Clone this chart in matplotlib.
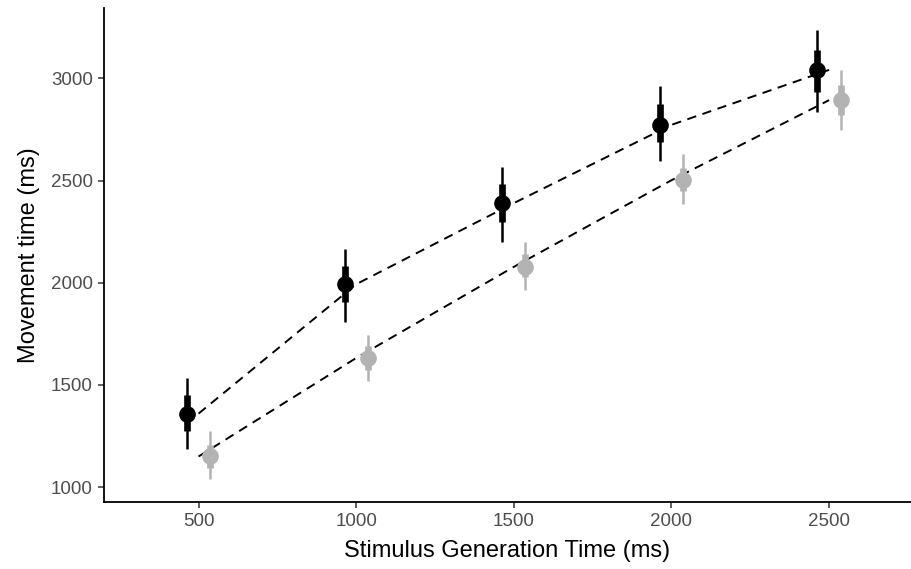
import numpy as np
import matplotlib.pyplot as plt

plt.rcParams['font.family'] = ['Liberation Sans', 'DejaVu Sans']

# stimulus generation time (ms)
sgt = np.array([500, 1000, 1500, 2000, 2500])

# black condition
black_mean = [1360, 1993, 2390, 2773, 3042]
black_outer_lo = [1186, 1807, 2198, 2594, 2834]
black_outer_hi = [1533, 2167, 2566, 2961, 3235]
black_inner_lo = [1275, 1905, 2296, 2687, 2936]
black_inner_hi = [1450, 2081, 2485, 2873, 3137]

# grey condition
grey_mean = [1150, 1632, 2078, 2502, 2894]
grey_outer_lo = [1038, 1520, 1963, 2387, 2749]
grey_outer_hi = [1274, 1745, 2198, 2630, 3039]
grey_inner_lo = [1093, 1575, 2028, 2447, 2819]
grey_inner_hi = [1205, 1690, 2139, 2563, 2966]

dodge = 37

fig = plt.figure(figsize=(9.12, 5.69), dpi=100)
ax = fig.add_axes([0.114, 0.118, 0.885, 0.868])

# dashed lines at the undodged positions
ax.plot(sgt, black_mean, color='black', lw=1.4, dashes=(4.8, 3.4), zorder=1)
ax.plot(sgt, grey_mean, color='black', lw=1.4, dashes=(4.8, 3.4), zorder=1)

groups = [
    (-dodge, black_mean, black_outer_lo, black_outer_hi, black_inner_lo, black_inner_hi, 'black'),
    (dodge, grey_mean, grey_outer_lo, grey_outer_hi, grey_inner_lo, grey_inner_hi, '#b3b3b3'),
]
for off, m, olo, ohi, ilo, ihi, col in groups:
    x = sgt + off
    ax.vlines(x, olo, ohi, color=col, lw=1.8, zorder=2)
    ax.vlines(x, ilo, ihi, color=col, lw=4.8, zorder=3)
    ax.plot(x, m, 'o', color=col, ms=12, mec='none', zorder=4)

ax.set_xlim(200, 2760)
ax.set_ylim(928, 3345)
ax.set_xticks([500, 1000, 1500, 2000, 2500])
ax.set_yticks([1000, 1500, 2000, 2500, 3000])

for s in ['top', 'right']:
    ax.spines[s].set_visible(False)
for s in ['left', 'bottom']:
    ax.spines[s].set_linewidth(1.3)
ax.tick_params(axis='both', colors='#4d4d4d', labelsize=13.5, length=4, width=1.1, pad=4)
ax.tick_params(axis='both', color='#333333')

ax.set_xlabel('Stimulus Generation Time (ms)', fontsize=17, labelpad=7)
ax.set_ylabel('Movement time (ms)', fontsize=17, labelpad=8)

fig.savefig('out.png', dpi=100)
